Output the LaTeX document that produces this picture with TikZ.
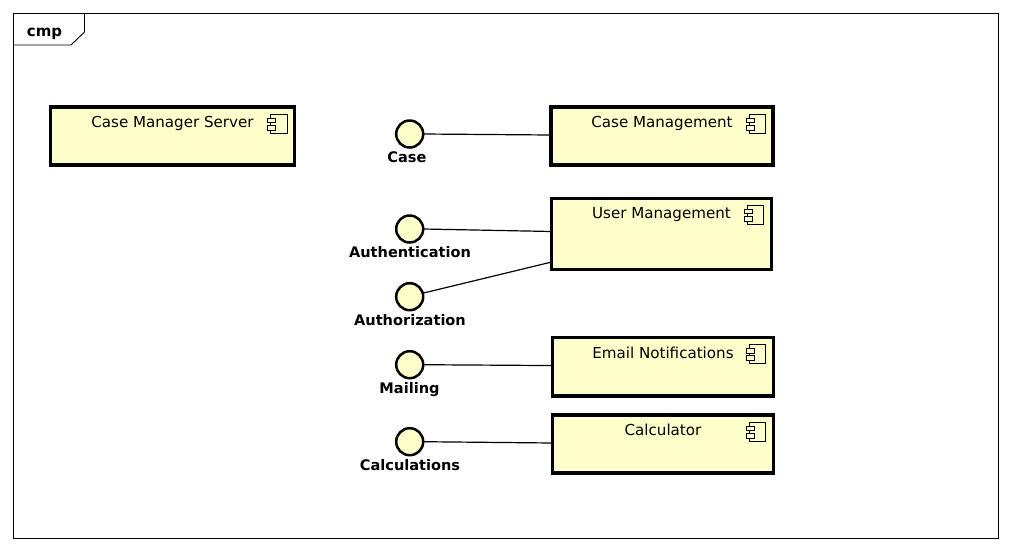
\documentclass[tikz,border=0pt]{standalone}
\usepackage{fontspec}
\setmainfont{DejaVu Sans}
\definecolor{compfill}{HTML}{FFFFCC}
\tikzset{
  x=1pt,y=-1pt,
  frameline/.style={draw=black,line width=1pt},
  tabtext/.style={font=\fontsize{15}{15}\selectfont\bfseries,anchor=base,inner sep=0},
  compbox/.style={draw=black,fill=compfill,line width=3.3pt,rectangle,inner sep=0,outer sep=0,anchor=north west},
  comptitle/.style={font=\fontsize{15.1}{15.1}\selectfont,anchor=base,inner sep=0},
  iface/.style={circle,draw=black,fill=compfill,line width=2.5pt,minimum size=27pt,inner sep=0,outer sep=0},
  ifacelabel/.style={font=\fontsize{14.55}{14.55}\selectfont\bfseries,anchor=base,inner sep=0},
  conn/.style={draw=black,line width=1.2pt},
  compicon/.pic={
    \draw[black,line width=1pt,fill=compfill] (-24,7) rectangle (-7.5,26);
    \draw[black,line width=1pt,fill=compfill] (-27,11) rectangle (-19,15.5);
    \draw[black,line width=1pt,fill=compfill] (-27,18.3) rectangle (-19,23);
  }
}
\begin{document}
\begin{tikzpicture}
\useasboundingbox (0,0) rectangle (1012,550);
\fill[white] (0,0) rectangle (1012,550);
% frame
\draw[frameline] (13.5,13.5) rectangle (998.5,538);
\draw[frameline,line width=.9pt] (13.5,45) -- (71,45) -- (84.5,32) -- (84.5,13.5);
\node[tabtext] (cmp) at (44.5,36) {cmp};
% components
\node[compbox,minimum width=243.7pt,minimum height=58pt] (server) at (50.8,107) {};
\node[compbox,minimum width=222pt,minimum height=58pt] (casem) at (551,107) {};
\node[compbox,minimum width=219.5pt,minimum height=71pt] (userm) at (551.7,198.2) {};
\node[compbox,minimum width=220.5pt,minimum height=58.5pt] (email) at (552.7,337.5) {};
\node[compbox,minimum width=220.5pt,minimum height=58pt] (calc) at (552.7,415) {};
\pic at (server.north east) {compicon};
\pic at (casem.north east) {compicon};
\pic at (userm.north east) {compicon};
\pic at (email.north east) {compicon};
\pic at (calc.north east) {compicon};
\node[comptitle] (t1) at (172.5,127.5) {Case Manager Server};
\node[comptitle] (t2) at (662,127.5) {Case Management};
\node[comptitle] (t3) at (661.5,218.5) {User Management};
\node[comptitle] (t4) at (663,358.5) {Email Notifications};
\node[comptitle] (t5) at (663,435.5) {Calculator};
% interfaces
\node[iface] (icase) at (409.7,134) {};
\node[iface] (iauthn) at (409.7,229) {};
\node[iface] (iauthz) at (409.7,296.7) {};
\node[iface] (imail) at (409.7,364.7) {};
\node[iface] (icalc) at (409.7,441.7) {};
\node[ifacelabel] (lcase) at (407,162) {Case};
\node[ifacelabel] (lauthn) at (410,257) {Authentication};
\node[ifacelabel] (lauthz) at (410,325) {Authorization};
\node[ifacelabel] (lmail) at (409.5,393) {Mailing};
\node[ifacelabel] (lcalc) at (410,470) {Calculations};
% connectors
\draw[conn] (icase.east) -- ([yshift=1pt]casem.west);
\draw[conn] (iauthn.east) -- ([yshift=2.2pt]userm.west);
\draw[conn] (iauthz.15) -- ([yshift=7.2pt]userm.south west);
\draw[conn] (imail.east) -- ([yshift=1.2pt]email.west);
\draw[conn] (icalc.east) -- ([yshift=1pt]calc.west);
\end{tikzpicture}
\end{document}
